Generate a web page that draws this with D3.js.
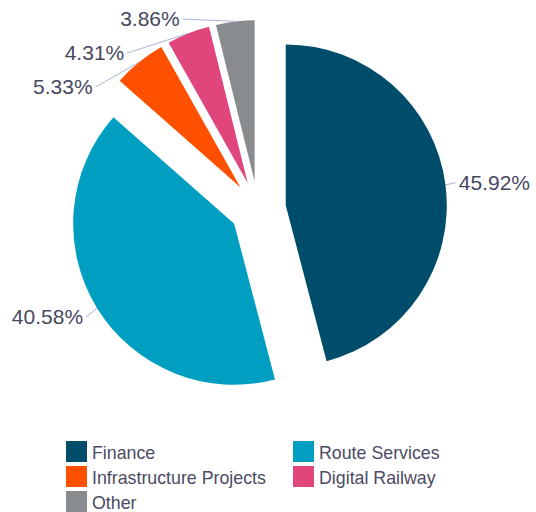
<!DOCTYPE html>
<html><head><meta charset="utf-8">
<script src="https://cdn.jsdelivr.net/npm/d3@7/dist/d3.min.js"></script>
<style>body{margin:0;background:#fff}svg{display:block}</style>
</head><body><svg id="c" width="536" height="512"></svg>
<script>
const categories = ["Finance","Route Services","Infrastructure Projects","Digital Railway","Other"];
const values = [45.92, 40.58, 5.33, 4.31, 3.86];
const labels = ["45.92%","40.58%","5.33%","4.31%","3.86%"];
const colors = ["#004d6b","#009fc2","#ff5000","#e0457b","#898c8f"];

const svg = d3.select("#c");
const cx = 258, cy = 209, r = 161, explode = 28, labelR = 205.5;
const pie = d3.pie().sort(null).value(d => d)(values);
const arc = d3.arc().innerRadius(0).outerRadius(r);
const g = svg.append("g").attr("transform", `translate(${cx},${cy})`);

pie.forEach((p, i) => {
  const mid = (p.startAngle + p.endAngle) / 2;
  p.mid = mid;
  p.ox = explode * Math.sin(mid);
  p.oy = -explode * Math.cos(mid);
});

g.selectAll("path.slice").data(pie).join("path")
  .attr("class", "slice")
  .attr("d", arc)
  .attr("fill", (d, i) => colors[i])
  .attr("transform", d => `translate(${d.ox},${d.oy})`);

// label layout
const lab = pie.map((p, i) => ({
  i, p, right: Math.sin(p.mid) >= 0,
  y: -labelR * Math.cos(p.mid)
}));
const left = lab.filter(l => !l.right).sort((a, b) => a.y - b.y);
const minY = 19 - cy, spacing = 34;
let prev = -Infinity;
left.forEach(l => {
  l.y = Math.max(l.y, minY, prev + spacing);
  prev = l.y;
});
lab.forEach(l => {
  const dx = Math.sqrt(Math.max(0, labelR * labelR - l.y * l.y));
  l.x = l.right ? dx - 3 : -dx;
  l.ax = l.p.ox + r * Math.sin(l.p.mid);
  l.ay = l.p.oy - r * Math.cos(l.p.mid);
});

g.selectAll("line.conn").data(lab).join("line")
  .attr("class", "conn")
  .attr("x1", d => d.ax).attr("y1", d => d.ay)
  .attr("x2", d => d.right ? d.x - 3 : d.x + 3).attr("y2", d => d.y)
  .attr("stroke", "#a9b6cf").attr("stroke-width", 1);

g.selectAll("text.lbl").data(lab).join("text")
  .attr("class", "lbl")
  .attr("x", d => d.x).attr("y", d => d.y)
  .attr("dy", "0.35em")
  .attr("text-anchor", d => d.right ? "start" : "end")
  .attr("font-family", "Liberation Sans, Arial, sans-serif")
  .attr("font-size", 21)
  .attr("fill", "#474760")
  .text(d => labels[d.i]);

// legend
const lg = svg.append("g");
const colX = [66, 293], rowY0 = 441, rowH = 25, sq = 21;
categories.forEach((c, i) => {
  const x = colX[i % 2], y = rowY0 + Math.floor(i / 2) * rowH;
  lg.append("rect").attr("x", x).attr("y", y).attr("width", sq).attr("height", sq).attr("fill", colors[i]);
  lg.append("text").attr("x", x + 26).attr("y", y + 17.5)
    .attr("font-family", "Liberation Sans, Arial, sans-serif")
    .attr("font-size", 17.8).attr("fill", "#4b4b63").text(c);
});
</script></body></html>
